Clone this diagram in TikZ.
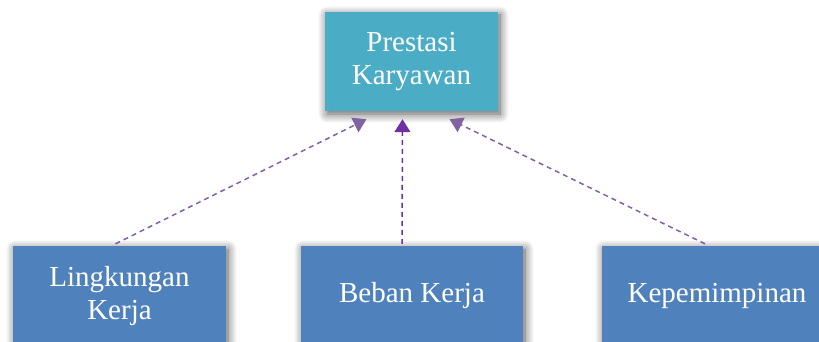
\documentclass[tikz,border=0pt]{standalone}
\usepackage{fontspec}
\setmainfont{Liberation Serif}
\usepackage{tikz}
\usetikzlibrary{shapes,arrows.meta,positioning,calc,shadows.blur}
\definecolor{tealbox}{HTML}{4BACC6}
\definecolor{bluebox}{HTML}{4F81BD}
\definecolor{linkpurple}{HTML}{8064A2}
\definecolor{darkpurple}{HTML}{7030A0}
\tikzset{
	box/.style={draw=none, fill=bluebox, text=white, align=center, inner sep=0pt,
		font=\fontsize{29}{33}\selectfont,
		blur shadow={shadow xshift=2pt, shadow yshift=-3pt, shadow blur steps=10, shadow blur radius=9pt, shadow opacity=65}},
	link/.style={linkpurple, dashed, line width=1.5pt, dash pattern=on 5pt off 4pt, -{Triangle[width=16pt,length=13pt]}},
}

\begin{document}
\begin{tikzpicture}[x=1pt, y=-1pt]
				\useasboundingbox (0,0) rectangle (819,342);
				\node[box, fill=tealbox, minimum width=173pt, minimum height=99pt] (prestasi) at (411.5,61.5) {Prestasi\\Karyawan};
				\node[box, minimum width=213pt, minimum height=100pt] (lingkungan) at (119.5,296) {Lingkungan\\Kerja};
				\node[box, minimum width=222pt, minimum height=100pt] (beban) at (412,296) {Beban Kerja};
				\node[box, minimum width=230pt, minimum height=100pt] (kepemimpinan) at (717,296) {Kepemimpinan};
				\path ($(prestasi.south)+(-45,8)$) coordinate (inL) ;
				\path ($(prestasi.south)+(-9,8)$) coordinate (inM) ;
				\path ($(prestasi.south)+(38,8)$) coordinate (inR) ;
				\draw[link] ($(lingkungan.north)+(-4,-2)$) -- (inL);
				\draw[link, darkpurple] ($(beban.north)+(-10,-2)$) -- (inM);
				\draw[link] ($(kepemimpinan.north)+(-12,-2)$) -- (inR);
\end{tikzpicture}
\end{document}
